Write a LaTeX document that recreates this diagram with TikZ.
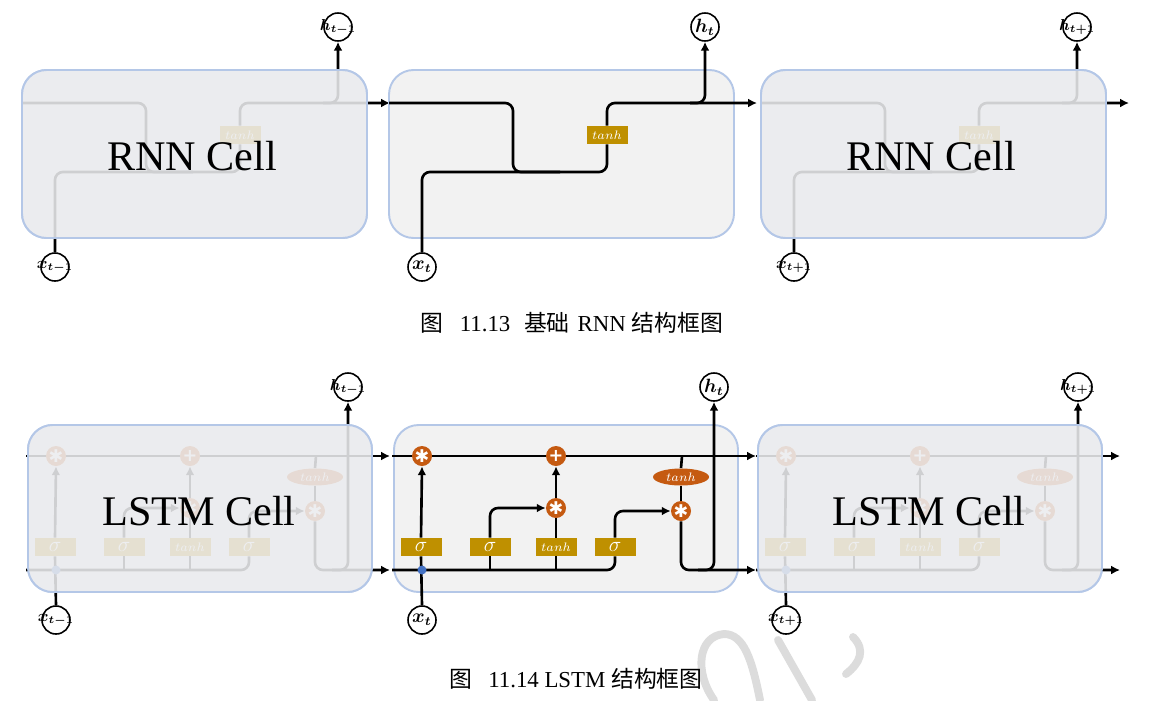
\documentclass[tikz,border=0pt]{standalone}
\usepackage{fontspec}
\setmainfont{Liberation Serif}
\newfontfamily\cjk{Noto Sans CJK SC}
\newfontfamily\dvs{DejaVu Sans}
\usepackage{bm}
\usetikzlibrary{arrows.meta,shapes.geometric}
\newlength\pxu \setlength\pxu{0.02cm}
\definecolor{boxfill}{HTML}{F2F2F2}
\definecolor{boxline}{HTML}{B4C7E7}
\definecolor{fadefill}{HTML}{EBECEF}
\definecolor{gold}{HTML}{BF9000}
\definecolor{orng}{HTML}{C55A11}
\definecolor{dotblue}{HTML}{4472C4}
\definecolor{wmgray}{HTML}{DCDCDC}
\newcommand{\iolab}[1]{\makebox[0pt]{\boldmath$#1$}}
\tikzset{
  cellbox/.style={draw=boxline, line width=1.1pt, fill=boxfill, rounded corners=14pt, inner sep=0pt},
  fadebox/.style={draw=boxline, line width=1.1pt, fill=fadefill, fill opacity=0.88, rounded corners=14pt, inner sep=0pt},
  wire/.style={line width=1.5pt, rounded corners=4.5pt},
  arr/.style={wire, -{Latex[length=5pt,width=5pt]}},
  io/.style={circle, draw, line width=0.9pt, fill=white, minimum size=28\pxu, inner sep=0pt, font=\fontsize{9}{9}\selectfont},
  gatebox/.style={fill=gold, text=white, minimum width=41\pxu, minimum height=18\pxu, inner sep=0pt},
  op/.style={circle, fill=orng, text=white, minimum size=20\pxu, inner sep=0pt, font=\dvs\fontsize{10}{10}\selectfont},
  ell/.style={ellipse, fill=orng, text=white, minimum width=56\pxu, minimum height=17\pxu, inner sep=0pt, font=\fontsize{7.5}{7.5}\selectfont},
  dotnode/.style={circle, fill=dotblue, minimum size=9\pxu, inner sep=0pt},
  celltext/.style={font=\fontsize{24}{24}\selectfont, anchor=base},
  wmstroke/.style={draw=wmgray, line width=4.5pt, line cap=round},
}
\newcommand{\RNNcell}[4]{%
\begin{scope}[shift={(#1,0)}]
  \node[cellbox, minimum width=345\pxu, minimum height=168\pxu] (rbox#2) at (561.5,154) {};
  \node[io] (h#2) at (705,27) {#3};
  \node[io] (x#2) at (422,267) {#4};
  \node[gatebox, font=\fontsize{7.5}{7.5}\selectfont] (tanh#2) at (607,135) {$tanh$};
  \coordinate (hin#2) at (389,103);
  \coordinate (hout#2) at (757,103);
  \draw[wire] (hin#2) -- (513,103) -- (513,172) -- (560,172);
  \draw[wire] (x#2.north) -- (422,172) -- (607,172) -- (tanh#2.south);
  \draw[arr] (tanh#2.north) -- (607,103) -- (hout#2);
  \draw[arr] (690,103) -- (705,103) -- (h#2.south);
\end{scope}}
\newcommand{\LSTMcell}[4]{%
\begin{scope}[shift={(#1,0)}]
  \node[cellbox, minimum width=344\pxu, minimum height=167\pxu] (lbox#2) at (566,508.5) {};
  \node[io] (h#2) at (714,387) {#3};
  \node[io] (x#2) at (422,620) {#4};
  \node[op] (f#2) at (422,456) {✱};
  \node[op] (a#2) at (556,456) {\bfseries +};
  \node[op] (i#2) at (556,508) {✱};
  \node[op] (o#2) at (681,511) {✱};
  \node[ell] (te#2) at (681,477) {$tanh$};
  \node[gatebox, font=\fontsize{12}{12}\selectfont] (sA#2) at (421,547) {$\sigma$};
  \node[gatebox, font=\fontsize{12}{12}\selectfont] (sB#2) at (490,547) {$\sigma$};
  \node[gatebox, font=\fontsize{7.5}{7.5}\selectfont] (sC#2) at (556,547) {$tanh$};
  \node[gatebox, font=\fontsize{12}{12}\selectfont] (sD#2) at (615,547) {$\sigma$};
  \coordinate (cin#2) at (392,456);
  \coordinate (cout#2) at (756,456);
  \coordinate (hin#2) at (392,570);
  \coordinate (hout#2) at (756,570);
  \draw[wire] (cin#2) -- (f#2.west);
  \draw[wire] (f#2.east) -- (a#2.west);
  \draw[arr] (a#2.east) -- (cout#2);
  \draw[wire] (x#2.north) -- (sA#2.south);
  \draw[arr] (sA#2.north) -- (f#2.south);
  \draw[wire] (hin#2) -- (615,570) -- (sD#2.south);
  \draw[arr] (sD#2.north) -- (615,511) -- (o#2.west);
  \draw[wire] (490,570) -- (sB#2.south);
  \draw[arr] (sB#2.north) -- (490,508) -- (i#2.west);
  \draw[wire] (556,570) -- (sC#2.south);
  \draw[wire] (sC#2.north) -- (i#2.south);
  \draw[arr] (i#2.north) -- (a#2.south);
  \draw[wire] (682,456) -- (te#2.north);
  \draw[wire] (te#2.south) -- (o#2.north);
  \draw[arr] (o#2.south) -- (681,570) -- (hout#2);
  \draw[arr] (698,570) -- (714,570) -- (h#2.south);
  \node[dotnode] (d#2) at (422,570) {};
\end{scope}}
\begin{document}
\begin{tikzpicture}[x=0.02cm, y=-0.02cm]
\useasboundingbox (0,0) rectangle (1151,700);
% watermark
\draw[wmstroke] (714,700) .. controls (694,672) and (698,636) .. (724,634) .. controls (744,634) and (752,660) .. (760,700);
\draw[wmstroke] (778,640) -- (812,700);
\draw[wmstroke] (853,637) .. controls (866,650) and (860,663) .. (846,674);
% RNN row
\RNNcell{-367}{L}{\iolab{h_{t-1}}}{\iolab{x_{t-1}}}
\node[fadebox, minimum width=345\pxu, minimum height=168\pxu] (rfadeL) at (194.5,154) {};
\node[celltext] (rtextL) at (192,170) {RNN Cell};
\RNNcell{372}{R}{\iolab{h_{t+1}}}{\iolab{x_{t+1}}}
\node[fadebox, minimum width=345\pxu, minimum height=168\pxu] (rfadeR) at (933.5,154) {};
\node[celltext] (rtextR) at (931,170) {RNN Cell};
\RNNcell{0}{M}{\fontsize{10.5}{10.5}\selectfont\iolab{h_t}}{\fontsize{10.5}{10.5}\selectfont\iolab{x_t}}
\node[font=\fontsize{13}{13}\selectfont] (cap1) at (572,323) {{\cjk 图}\hspace{0.7em}11.13\hspace{0.6em}{\cjk 基础}\hspace{0.35em}RNN\hspace{0.25em}{\cjk 结构框图}};
% LSTM row
\LSTMcell{-366}{L}{\iolab{h_{t-1}}}{\iolab{x_{t-1}}}
\node[fadebox, minimum width=344\pxu, minimum height=167\pxu] (lfadeL) at (200,508.5) {};
\node[celltext] (ltextL) at (199,525) {LSTM Cell};
\LSTMcell{364}{R}{\iolab{h_{t+1}}}{\iolab{x_{t+1}}}
\node[fadebox, minimum width=344\pxu, minimum height=167\pxu] (lfadeR) at (930,508.5) {};
\node[celltext] (ltextR) at (929,525) {LSTM Cell};
\LSTMcell{0}{M}{\fontsize{10.5}{10.5}\selectfont\iolab{h_t}}{\fontsize{10.5}{10.5}\selectfont\iolab{x_t}}
\node[font=\fontsize{13}{13}\selectfont] (cap2) at (576,679) {{\cjk 图}\hspace{0.7em}11.14 LSTM\hspace{0.25em}{\cjk 结构框图}};
\end{tikzpicture}
\end{document}
